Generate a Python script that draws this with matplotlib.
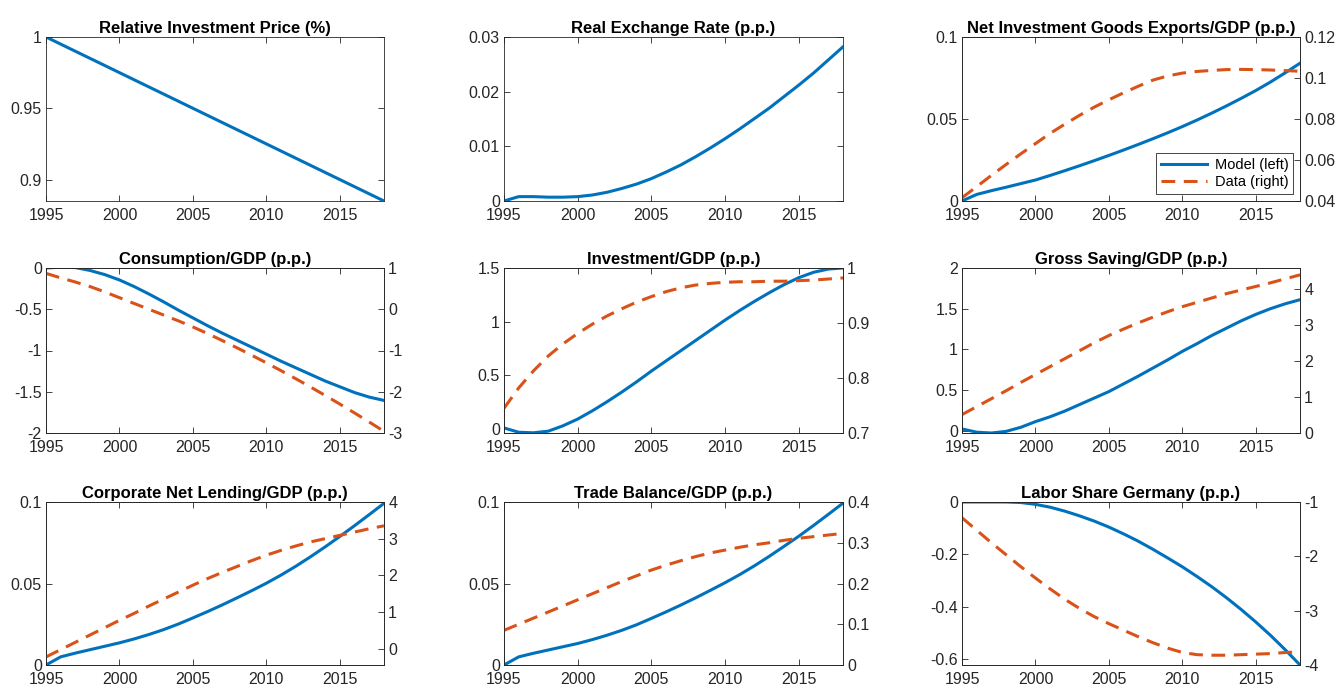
import matplotlib.pyplot as plt
import numpy as np

plt.rcParams['font.family'] = ['Liberation Sans', 'DejaVu Sans']

years = np.arange(1995, 2019)

# relative investment price
price_model = [1.000, 0.995, 0.990, 0.985, 0.980, 0.975, 0.970, 0.965, 0.960, 0.955, 0.950, 0.945,
               0.940, 0.935, 0.930, 0.925, 0.920, 0.915, 0.910, 0.905, 0.900, 0.895, 0.890, 0.885]
# real exchange rate
rer_model = [0.0, 0.0008, 0.0008, 0.0007, 0.0007, 0.0008, 0.0011, 0.0016, 0.0023, 0.0031, 0.0041, 0.0053,
             0.0066, 0.0081, 0.0097, 0.0114, 0.0132, 0.0151, 0.0170, 0.0191, 0.0212, 0.0234, 0.0258, 0.0282]
# net investment goods exports / GDP
nige_model = [0.0, 0.004, 0.0063, 0.0084, 0.0106, 0.0128, 0.0156, 0.0185, 0.0215, 0.0246, 0.0278, 0.0311,
              0.0345, 0.0380, 0.0416, 0.0454, 0.0494, 0.0536, 0.0580, 0.0626, 0.0674, 0.0726, 0.0782, 0.0840]
nige_data = [0.0416, 0.047, 0.0525, 0.0578, 0.063, 0.068, 0.073, 0.0775, 0.0818, 0.0858, 0.0894, 0.0928,
             0.0960, 0.0990, 0.1010, 0.1024, 0.1032, 0.1037, 0.1041, 0.1042, 0.1041, 0.1039, 0.1036, 0.1033]
# consumption / GDP
cons_model = [0.0, 0.01, 0.005, -0.03, -0.08, -0.145, -0.225, -0.315, -0.41, -0.51, -0.605, -0.70,
              -0.79, -0.875, -0.96, -1.045, -1.13, -1.21, -1.29, -1.37, -1.44, -1.51, -1.565, -1.605]
cons_data = [0.87, 0.76, 0.66, 0.55, 0.42, 0.28, 0.14, 0.0, -0.14, -0.28, -0.43, -0.59,
             -0.76, -0.935, -1.115, -1.30, -1.49, -1.685, -1.885, -2.09, -2.30, -2.515, -2.735, -2.96]
# investment / GDP
inv_model = [0.01, -0.03, -0.035, -0.02, 0.03, 0.093, 0.17, 0.255, 0.345, 0.44, 0.54, 0.635,
             0.73, 0.825, 0.92, 1.015, 1.105, 1.19, 1.27, 1.345, 1.41, 1.46, 1.49, 1.50]
inv_data = [0.745, 0.782, 0.813, 0.840, 0.862, 0.881, 0.898, 0.913, 0.926, 0.938, 0.948, 0.957,
            0.964, 0.969, 0.972, 0.974, 0.975, 0.975, 0.976, 0.976, 0.977, 0.978, 0.980, 0.982]
# gross saving / GDP
sav_model = [0.02, -0.02, -0.03, -0.01, 0.04, 0.11, 0.17, 0.24, 0.32, 0.40, 0.48, 0.575,
             0.67, 0.77, 0.87, 0.975, 1.07, 1.17, 1.26, 1.35, 1.43, 1.50, 1.56, 1.61]
sav_data = [0.51, 0.73, 0.95, 1.17, 1.40, 1.62, 1.84, 2.06, 2.28, 2.50, 2.70, 2.88,
            3.05, 3.21, 3.36, 3.50, 3.62, 3.74, 3.86, 3.96, 4.06, 4.16, 4.27, 4.38]
# corporate net lending / GDP
lend_model = [0.0, 0.005, 0.0073, 0.0094, 0.0115, 0.0136, 0.0160, 0.0187, 0.0217, 0.0251, 0.0289, 0.0328,
              0.0369, 0.0412, 0.0456, 0.0502, 0.0552, 0.0606, 0.0664, 0.0725, 0.0789, 0.0855, 0.0923, 0.0992]
lend_data = [-0.23, -0.03, 0.17, 0.37, 0.57, 0.77, 0.96, 1.16, 1.35, 1.54, 1.73, 1.91,
             2.08, 2.24, 2.40, 2.55, 2.68, 2.80, 2.91, 3.00, 3.09, 3.18, 3.27, 3.35]
# trade balance / GDP
tb_model = [0.0, 0.005, 0.0072, 0.0092, 0.0112, 0.0132, 0.0156, 0.0183, 0.0213, 0.0247, 0.0286, 0.0326,
            0.0368, 0.0412, 0.0458, 0.0505, 0.0555, 0.0609, 0.0667, 0.0728, 0.0790, 0.0856, 0.0924, 0.0993]
tb_data = [0.085, 0.10, 0.115, 0.13, 0.145, 0.160, 0.175, 0.19, 0.205, 0.219, 0.233, 0.245,
           0.256, 0.266, 0.275, 0.282, 0.289, 0.295, 0.300, 0.306, 0.311, 0.315, 0.319, 0.323]
# labor share Germany
ls_model = [0.0, 0.0, 0.0, 0.0, -0.002, -0.009, -0.020, -0.035, -0.053, -0.073, -0.096, -0.122,
            -0.150, -0.181, -0.214, -0.248, -0.285, -0.324, -0.366, -0.411, -0.459, -0.510, -0.565, -0.623]
ls_data = [-1.29, -1.52, -1.75, -1.97, -2.19, -2.40, -2.60, -2.79, -2.96, -3.11, -3.24, -3.36,
           -3.48, -3.59, -3.69, -3.77, -3.81, -3.82, -3.82, -3.81, -3.80, -3.79, -3.77, -3.76]

BLUE = '#0072BD'
ORANGE = '#D95319'
DARK = '#262626'
W, H = 1339, 688

fig = plt.figure(figsize=(W / 100, H / 100), dpi=100)

cols = [(46, 384), (504, 843), (962, 1300)]
rows = [(37, 201), (268, 433), (502, 665)]


def make_ax(r, c):
    x0, x1 = cols[c]
    y0, y1 = rows[r]
    return fig.add_axes([x0 / W, 1 - y1 / H, (x1 - x0) / W, (y1 - y0) / H])


def style(ax, ylim, yticks, right=False):
    ax.set_ylim(*ylim)
    ax.set_yticks(yticks)
    ax.set_yticklabels([f'{t:g}' for t in yticks])
    for s in ax.spines.values():
        s.set_color(DARK)
        s.set_linewidth(0.6)
    ax.tick_params(direction='in', length=4, width=0.6, colors=DARK, labelsize=11.5,
                   top=True, right=not right)
    ax.tick_params(axis='y', pad=3)
    ax.tick_params(axis='x', pad=5)


def panel(r, c, title, model, ylim, yticks, data=None, ylim2=None, yticks2=None):
    ax = make_ax(r, c)
    ax.plot(years, model, color=BLUE, lw=2.2, label='Model (left)')
    ax.set_xlim(1995, 2018)
    ax.set_xticks([1995, 2000, 2005, 2010, 2015])
    style(ax, ylim, yticks)
    ax.set_title(title, fontsize=12, fontweight='bold', pad=3)
    ax2 = None
    if data is not None:
        ax.tick_params(right=False)
        ax2 = ax.twinx()
        ax2.plot(years, data, color=ORANGE, lw=2.2, dashes=(4.5, 2.8), label='Data (right)')
        style(ax2, ylim2, yticks2, right=True)
        ax2.tick_params(left=False, right=True, top=False)
    return ax, ax2


panel(0, 0, 'Relative Investment Price (%)', price_model, (0.885, 1.0), [0.9, 0.95, 1])
panel(0, 1, 'Real Exchange Rate (p.p.)', rer_model, (0, 0.03), [0, 0.01, 0.02, 0.03])
ax, ax2 = panel(0, 2, 'Net Investment Goods Exports/GDP (p.p.)', nige_model, (0, 0.1), [0, 0.05, 0.1],
                nige_data, (0.04, 0.12), [0.04, 0.06, 0.08, 0.1, 0.12])
h1, l1 = ax.get_legend_handles_labels()
h2, l2 = ax2.get_legend_handles_labels()
leg = ax2.legend(h1 + h2, l1 + l2, loc='lower right', fontsize=10.5, fancybox=False,
                 edgecolor=DARK, framealpha=1, borderaxespad=0.5, handlelength=3.2,
                 borderpad=0.3, labelspacing=0.25, handletextpad=0.5)
leg.get_frame().set_linewidth(0.6)

panel(1, 0, 'Consumption/GDP (p.p.)', cons_model, (-2, 0), [-2, -1.5, -1, -0.5, 0],
      cons_data, (-3, 1), [-3, -2, -1, 0, 1])
panel(1, 1, 'Investment/GDP (p.p.)', inv_model, (-0.037, 1.5), [0, 0.5, 1, 1.5],
      inv_data, (0.7, 1.0), [0.7, 0.8, 0.9, 1])
panel(1, 2, 'Gross Saving/GDP (p.p.)', sav_model, (-0.03, 2), [0, 0.5, 1, 1.5, 2],
      sav_data, (0, 4.57), [0, 1, 2, 3, 4])

panel(2, 0, 'Corporate Net Lending/GDP (p.p.)', lend_model, (0, 0.1), [0, 0.05, 0.1],
      lend_data, (-0.45, 4), [0, 1, 2, 3, 4])
panel(2, 1, 'Trade Balance/GDP (p.p.)', tb_model, (0, 0.1), [0, 0.05, 0.1],
      tb_data, (0, 0.4), [0, 0.1, 0.2, 0.3, 0.4])
panel(2, 2, 'Labor Share Germany (p.p.)', ls_model, (-0.623, 0), [-0.6, -0.4, -0.2, 0],
      ls_data, (-4, -1), [-4, -3, -2, -1])

fig.savefig('out.png', dpi=100)
